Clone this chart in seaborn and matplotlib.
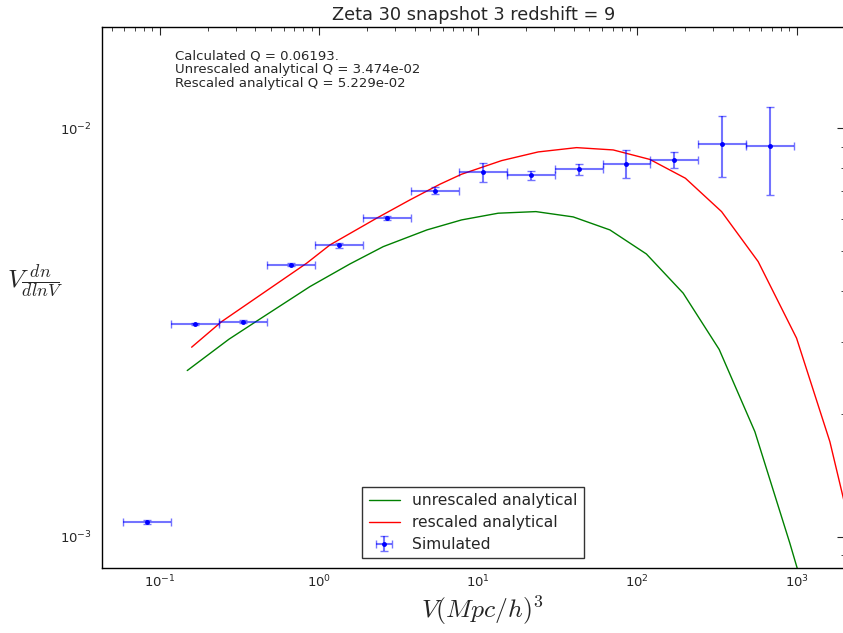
import matplotlib
matplotlib.use("Agg")
import matplotlib.pyplot as plt
import seaborn as sns
import numpy as np

# ---- data ----
sim_x = [0.0834, 0.1669, 0.3338, 0.6675, 1.335, 2.670, 5.340, 10.68, 21.36, 42.72, 85.44, 170.9, 341.8, 683.5]
sim_lo = [0.059, 0.118, 0.236, 0.472, 0.944, 1.888, 3.776, 7.552, 15.10, 30.21, 60.42, 120.8, 241.7, 483.3]
sim_hi = [0.118, 0.236, 0.472, 0.944, 1.888, 3.776, 7.552, 15.10, 30.21, 60.42, 120.8, 241.7, 483.3, 966.7]
sim_y = [0.001086, 0.003318, 0.003361, 0.004634, 0.005169, 0.006040, 0.007036,
         0.007803, 0.007672, 0.007934, 0.008189, 0.008363, 0.009137, 0.009066]
sim_yerr = [0.00001, 0.00002, 0.000035, 0.00004, 0.00007, 0.00007, 0.00015,
            0.00043, 0.00020, 0.000236, 0.00064, 0.00038, 0.00155, 0.00222]

unres_x = [0.1492, 0.2727, 0.4029, 0.8791, 1.568, 2.537, 4.771, 7.877, 13.37, 23.06,
           39.54, 67.20, 113.9, 193.9, 326.2, 546.5, 906.3, 1525.0]
unres_y = [0.002550, 0.003043, 0.003361, 0.004094, 0.004652, 0.005129, 0.005636, 0.005963,
           0.006193, 0.006249, 0.006065, 0.005636, 0.004921, 0.003945, 0.002873, 0.001807,
           0.000963, 0.000483]

res_x = [0.1590, 0.2454, 0.8383, 1.174, 2.306, 3.731, 5.757, 7.877, 14.04, 23.84, 41.52,
         70.48, 119.8, 200.2, 337.7, 573.2, 998.6, 1616.0, 2759.0]
res_y = [0.002909, 0.003361, 0.004671, 0.005178, 0.006021, 0.006675, 0.007292, 0.007716,
         0.008331, 0.008749, 0.008964, 0.008848, 0.008387, 0.007543, 0.006249, 0.004714,
         0.003061, 0.001708, 0.000712]

legend_labels = ["unrescaled analytical", "rescaled analytical", "Simulated"]
title = "Zeta 30 snapshot 3 redshift = 9"
info_text = ("Calculated Q = 0.06193.\n"
             "Unrescaled analytical Q = 3.474e-02\n"
             "Rescaled analytical Q = 5.229e-02")

# ---- style ----
sns.set_style("white")
plt.rcParams["font.family"] = ["DejaVu Sans"]
plt.rcParams["mathtext.fontset"] = "dejavusans"
plt.rcParams["axes.unicode_minus"] = False

fig = plt.figure(figsize=(8.43, 6.33), dpi=100)
ax = fig.add_axes([0.1206, 0.1032, 0.8813, 0.8537])
ax.set_xscale("log")
ax.set_yscale("log")

sns.lineplot(x=unres_x, y=unres_y, ax=ax, color="g", lw=1.0, sort=False,
             estimator=None, label=legend_labels[0])
sns.lineplot(x=res_x, y=res_y, ax=ax, color="r", lw=1.0, sort=False,
             estimator=None, label=legend_labels[1])

xerr = [np.array(sim_x) - np.array(sim_lo), np.array(sim_hi) - np.array(sim_x)]
ax.errorbar(sim_x, sim_y, xerr=xerr, yerr=sim_yerr, fmt=".", color="b",
            ecolor=(0, 0, 1, 0.55), elinewidth=1.5, capsize=3, capthick=1.0,
            markersize=5, label=legend_labels[2])

ax.set_xlim(0.0433, 2000)
ax.set_ylim(0.000839, 0.01767)

ax.set_title(title, fontsize=12.8, pad=5)
ax.set_xlabel(r"$V(Mpc/h)^3$", fontsize=18.5, math_fontfamily="cm")
ax.set_ylabel(r"$V\frac{dn}{dlnV}$", fontsize=18.5, math_fontfamily="cm",
              rotation=0, ha="center", va="center")
ax.yaxis.set_label_coords(-0.09, 0.53)
ax.xaxis.set_label_coords(0.512, -0.048)

ax.text(0.0987, 0.958, info_text, transform=ax.transAxes, fontsize=9.5,
        va="top", ha="left", linespacing=1.05)

for s in ax.spines.values():
    s.set_color("black")
    s.set_linewidth(1.0)
ax.tick_params(which="both", direction="in", top=True, right=True, labelsize=9.5)
ax.tick_params(axis="y", pad=7)
ax.tick_params(axis="x", pad=4)
ax.tick_params(which="major", length=5.5, width=0.8)
ax.tick_params(which="minor", length=3, width=0.6)

leg = ax.legend(loc="lower center", fontsize=11.2, frameon=True, fancybox=False,
                borderaxespad=0.6, labelspacing=0.45, borderpad=0.4)
leg.get_frame().set_edgecolor("black")
leg.get_frame().set_linewidth(1.0)

fig.savefig("out.png", dpi=100)
